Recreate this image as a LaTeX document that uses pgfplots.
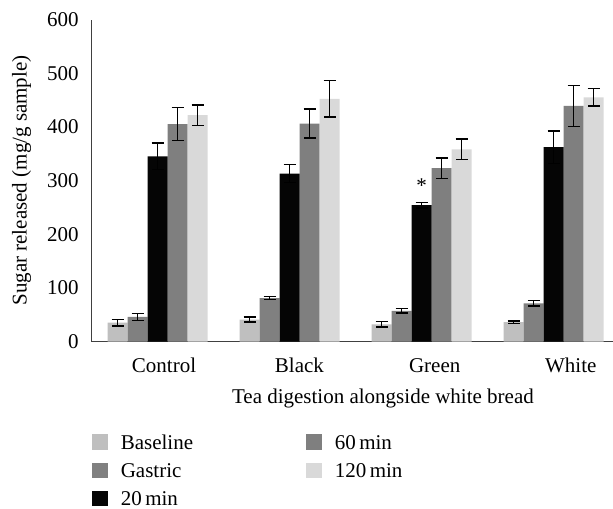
\documentclass[border=0pt]{standalone}
\usepackage{fontspec}
\setmainfont{Liberation Serif}
\usepackage{pgfplots}
\pgfplotsset{compat=1.18}
\definecolor{cBase}{HTML}{BFBFBF}
\definecolor{cGas}{HTML}{808080}
\definecolor{cTw}{HTML}{050505}
\definecolor{cSix}{HTML}{7F7F7F}
\definecolor{cOne}{HTML}{D9D9D9}
\begin{document}
\begin{tikzpicture}[font=\fontsize{10.5}{12.6}\selectfont]
\begin{axis}[
  scale only axis, width=260.65pt, height=161pt,
  xmin=-0.5, xmax=3.45, ymin=0, ymax=600,
  ybar, bar width=10pt,
  axis lines*=left,
  axis line style={black!75, line width=0.6pt},
  major tick length=0pt,
  ytick={0,100,200,300,400,500,600},
  xtick={0.048,1.074,2.099,3.13},
  xticklabels={Control,Black,Green,White},
  /pgf/number format/assume math mode=true,
  tick label style={font=\fontsize{10.5}{12.6}\selectfont},
  yticklabel style={anchor=east, xshift=-3pt},
  xticklabel style={anchor=base, yshift=-15.3pt},
  ylabel={Sugar released (mg/g sample)},
  ylabel style={at={(axis description cs:-0.1343,0.5)}, anchor=center},
  xlabel={Tea digestion alongside white bread},
  xlabel style={at={(axis description cs:0.5587,-0.1935)}, anchor=base},
  /pgfplots/error bars/error bar style={draw=black, line width=0.7pt},
  /pgfplots/error bars/error mark options={rotate=90, draw=black, line width=0.7pt, mark size=3pt},
  legend columns=2,
  legend cell align=left,
  legend style={at={(axis description cs:0,-0.276)}, anchor=north west,
    draw=none, fill=none, inner sep=0pt, row sep=3pt,
    font=\fontsize{10.5}{12.6}\selectfont,
    nodes={text depth=0pt},
    /tikz/every odd column/.append style={column sep=4.5pt},
    /tikz/every even column/.append style={column sep=54.5pt}},
]
\addplot[fill=cBase, draw=none, bar shift=-20pt,
  legend image code/.code={\fill[fill=cBase] (0pt,-3.9pt) rectangle (7.85pt,3.9pt);},
  error bars/.cd, y dir=both, y explicit] coordinates {
  (0,35) +- (0,6) (1,41) +- (0,5) (2,32) +- (0,5) (3,36) +- (0,2.5)};
\addlegendentry{Baseline}
\addplot[fill=cSix, draw=none, bar shift=10pt,
  legend image code/.code={\fill[fill=cSix] (0pt,-3.9pt) rectangle (7.85pt,3.9pt);},
  error bars/.cd, y dir=both, y explicit] coordinates {
  (0,405) +- (0,31) (1,406) +- (0,27) (2,323) +- (0,19) (3,439) +- (0,38)};
\addlegendentry{60\,min}
\addplot[fill=cGas, draw=none, bar shift=-10pt,
  legend image code/.code={\fill[fill=cGas] (0pt,-3.9pt) rectangle (7.85pt,3.9pt);},
  error bars/.cd, y dir=both, y explicit] coordinates {
  (0,46) +- (0,6.5) (1,81) +- (0,3) (2,57) +- (0,4) (3,71) +- (0,5)};
\addlegendentry{Gastric}
\addplot[fill=cOne, draw=none, bar shift=20pt,
  legend image code/.code={\fill[fill=cOne] (0pt,-3.9pt) rectangle (7.85pt,3.9pt);},
  error bars/.cd, y dir=both, y explicit] coordinates {
  (0,422) +- (0,19) (1,452) +- (0,34) (2,358) +- (0,19) (3,455) +- (0,16)};
\addlegendentry{120\,min}
\addplot[fill=cTw, draw=none, bar shift=0pt,
  legend image code/.code={\fill[fill=cTw] (0pt,-3.9pt) rectangle (7.85pt,3.9pt);},
  error bars/.cd, y dir=both, y explicit] coordinates {
  (0,345) +- (0,25) (1,313) +- (0,17) (2,254) +- (0,5) (3,362) +- (0,30)};
\addlegendentry{20\,min}
\node[anchor=base] at (axis cs:2,277.6) {*};
\coordinate (O) at (rel axis cs:0,0);
\end{axis}
\pgfresetboundingbox
\path (O) ++(-45.85pt,-83.5pt) rectangle ++(306.5pt,254.25pt);
\end{tikzpicture}
\end{document}
